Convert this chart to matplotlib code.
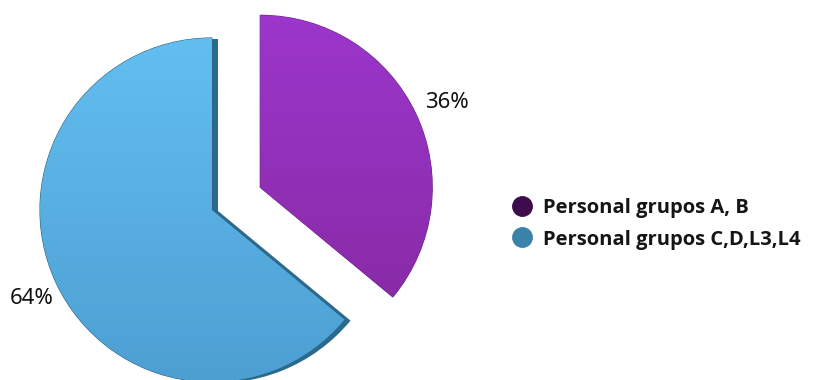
import numpy as np
import matplotlib
matplotlib.use("Agg")
import matplotlib.pyplot as plt
from matplotlib.colors import LinearSegmentedColormap
from matplotlib.lines import Line2D

labels = ["Personal grupos A, B", "Personal grupos C,D,L3,L4"]
values = [36, 64]
pct_labels = ["36%", "64%"]
explode = [0.31, 0.0]
slice_top = ["#9c36cc", "#63bef0"]
slice_bottom = ["#84299f", "#4d9fd2"]
legend_colors = ["#3e0c4c", "#3a82aa"]

W, H = 814, 380
R = 172.0
cx, cy = 212.0, 210.0

fig = plt.figure(figsize=(W / 100, H / 100), dpi=100)
ax = fig.add_axes([0, 0, 1, 1])
center = (cx / R, (H - cy) / R)

# 3D side (depth) of the blue slice
shadow, _ = ax.pie(values, explode=explode, startangle=90, counterclock=False,
                   radius=1.0, center=(center[0] + 6 / R, center[1] - 1 / R),
                   colors=["#5a1a72", "#2a6a8e"], wedgeprops=dict(linewidth=0))
shadow[0].set_visible(False)

wedges, texts = ax.pie(values, explode=explode, startangle=90, counterclock=False,
                       radius=1.0, center=center, colors=slice_bottom,
                       labels=pct_labels, labeldistance=1.13,
                       wedgeprops=dict(linewidth=0.8, edgecolor="#2f627e"),
                       textprops=dict(fontsize=16, color="#111111", family="Noto Sans"))
wedges[0].set_edgecolor("#6a2384")

for w, ctop, cbot in zip(wedges, slice_top, slice_bottom):
    cmap = LinearSegmentedColormap.from_list("g", [cbot, ctop])
    grad = np.linspace(0, 1, 256).reshape(-1, 1)
    wc = w.center
    im = ax.imshow(grad, cmap=cmap, origin="lower", aspect="auto",
                   extent=(wc[0] - 1, wc[0] + 1, wc[1] - 1, wc[1] + 1), zorder=w.get_zorder() + 0.1)
    im.set_clip_path(w)

# label positions
texts[0].set_position((447 / R, (H - 103) / R))
texts[0].set_ha("center"); texts[0].set_va("center")
texts[1].set_position((32 / R, (H - 298) / R))
texts[1].set_ha("center"); texts[1].set_va("center")

ax.set_xlim(0, W / R)
ax.set_ylim(0, H / R)
ax.set_aspect("equal")
ax.axis("off")

handles = [Line2D([], [], marker="o", linestyle="none", markersize=14,
                  markerfacecolor=c, markeredgecolor=c) for c in legend_colors]
leg = fig.legend(handles, labels, loc="center left",
                 bbox_to_anchor=(492 / W, 1 - 224 / H), frameon=False,
                 handletextpad=0.45, labelspacing=0.55, handlelength=1.2,
                 prop=dict(family="Open Sans", weight="bold", size=14.5))
for t in leg.get_texts():
    t.set_color("#151515")

fig.savefig("out.png", dpi=100, facecolor="white")
